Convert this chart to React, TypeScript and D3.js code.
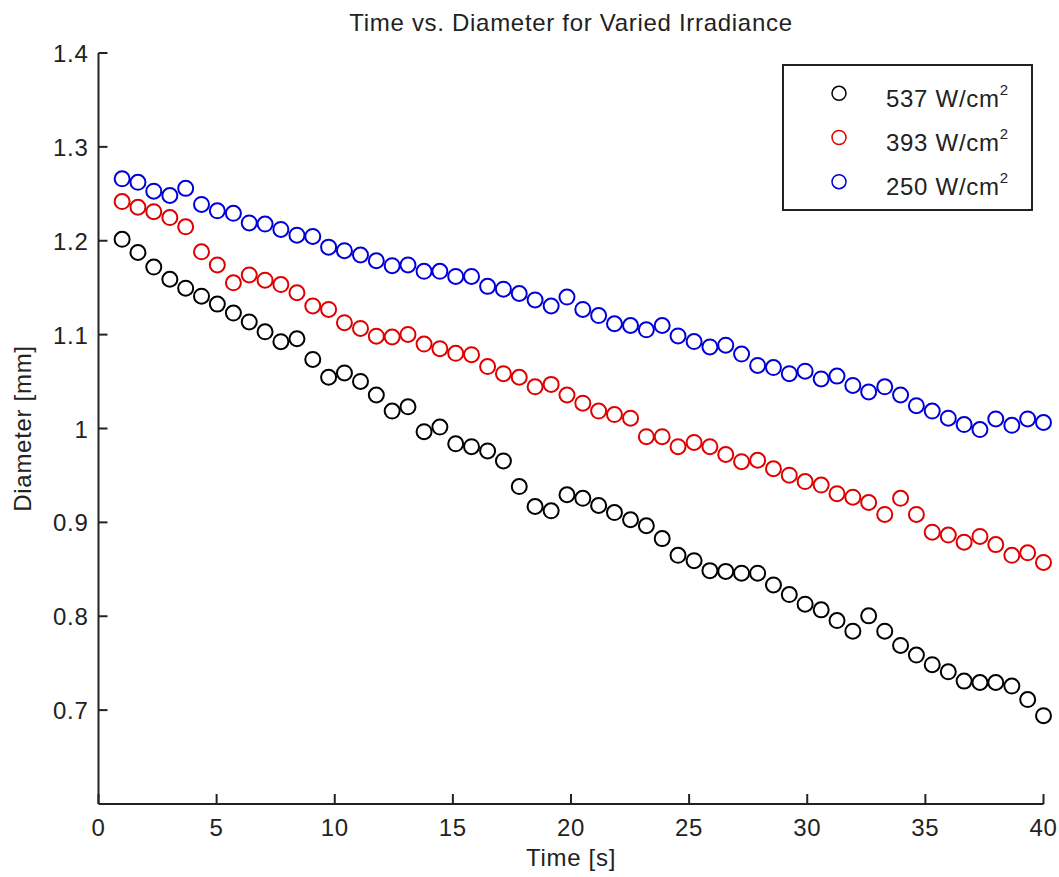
import React from "react";
import * as d3 from "d3";

const times = [1.0, 1.67, 2.34, 3.02, 3.69, 4.36, 5.03, 5.71, 6.38, 7.05, 7.72, 8.4, 9.07, 9.74, 10.41, 11.09, 11.76, 12.43, 13.1, 13.78, 14.45, 15.12, 15.79, 16.47, 17.14, 17.81, 18.48, 19.16, 19.83, 20.5, 21.17, 21.84, 22.52, 23.19, 23.86, 24.53, 25.21, 25.88, 26.55, 27.22, 27.9, 28.57, 29.24, 29.91, 30.59, 31.26, 31.93, 32.6, 33.28, 33.95, 34.62, 35.29, 35.97, 36.64, 37.31, 37.98, 38.66, 39.33, 40.0];

const d537 = [1.2015, 1.1875, 1.172, 1.159, 1.1495, 1.141, 1.1325, 1.123, 1.1135, 1.103, 1.0925, 1.0956, 1.0736, 1.0546, 1.0592, 1.0501, 1.0357, 1.0186, 1.0231, 0.9966, 1.0015, 0.9837, 0.9806, 0.9761, 0.9655, 0.9381, 0.9169, 0.9123, 0.9294, 0.9256, 0.918, 0.9104, 0.9028, 0.8964, 0.8827, 0.8649, 0.8592, 0.8486, 0.8478, 0.8459, 0.8459, 0.8334, 0.8231, 0.8129, 0.8068, 0.7954, 0.7841, 0.8004, 0.7841, 0.7689, 0.7586, 0.7484, 0.7408, 0.7309, 0.7294, 0.7294, 0.7256, 0.7112, 0.6941];

const d393 = [1.2417, 1.2357, 1.231, 1.2247, 1.2148, 1.1882, 1.1742, 1.1552, 1.1636, 1.158, 1.1533, 1.1446, 1.1306, 1.1268, 1.1127, 1.1066, 1.0983, 1.0975, 1.1002, 1.0899, 1.085, 1.0801, 1.0786, 1.066, 1.0584, 1.0546, 1.0444, 1.047, 1.0357, 1.027, 1.0186, 1.0148, 1.011, 0.9913, 0.9913, 0.9806, 0.9852, 0.9806, 0.9723, 0.9647, 0.9662, 0.9571, 0.9503, 0.9435, 0.9397, 0.9306, 0.9268, 0.9212, 0.9085, 0.9256, 0.9085, 0.8896, 0.8865, 0.8789, 0.885, 0.8763, 0.8649, 0.8676, 0.8573];

const d250 = [1.266, 1.2622, 1.2528, 1.2482, 1.2558, 1.2387, 1.2319, 1.2292, 1.219, 1.2178, 1.2121, 1.2059, 1.2046, 1.1932, 1.1894, 1.1848, 1.1787, 1.1734, 1.1742, 1.1674, 1.1674, 1.162, 1.162, 1.1514, 1.1484, 1.1438, 1.137, 1.1305, 1.14, 1.1268, 1.1203, 1.1116, 1.1097, 1.1051, 1.1097, 1.0986, 1.0926, 1.0869, 1.0888, 1.0793, 1.0672, 1.0649, 1.0584, 1.0611, 1.0528, 1.0558, 1.0459, 1.039, 1.0444, 1.0357, 1.0243, 1.0186, 1.011, 1.0042, 0.9989, 1.0102, 1.0034, 1.0102, 1.0064];

const seriesNames = ["537", "393", "250"];
const seriesColors = ["#000000", "#e00000", "#0000d8"];
const seriesValues = [d537, d393, d250];

const xTicks = [0, 5, 10, 15, 20, 25, 30, 35, 40];
const xTickLabels = ["0", "5", "10", "15", "20", "25", "30", "35", "40"];
const yTicks = [0.7, 0.8, 0.9, 1.0, 1.1, 1.2, 1.3, 1.4];
const yTickLabels = ["0.7", "0.8", "0.9", "1", "1.1", "1.2", "1.3", "1.4"];

const W = 1059;
const H = 877;
const FONT = "'Liberation Sans', Arial, Helvetica, sans-serif";

export default function App() {
  const x = d3.scaleLinear().domain([0, 40]).range([98.5, 1043.5]);
  const y = d3.scaleLinear().domain([0.6, 1.4]).range([804, 53]);
  const axisColor = "#222";
  const fs = 24;
  const ls = 0.7;

  return (
    <svg
      width={W}
      height={H}
      viewBox={`0 0 ${W} ${H}`}
      style={{ position: "absolute", left: 0, top: 0, display: "block", background: "#fff" }}
      fontFamily={FONT}
    >
      <rect x={0} y={0} width={W} height={H} fill="#fff" />
      {/* title */}
      <text x={(x(0) + x(40)) / 2} y={31} textAnchor="middle" fontSize={fs} letterSpacing={ls} fill="#222">
        Time vs. Diameter for Varied Irradiance
      </text>

      {/* axes lines */}
      <line x1={x(0)} x2={x(0)} y1={y(1.4)} y2={y(0.6)} stroke={axisColor} strokeWidth={2} />
      <line x1={x(0)} x2={x(40)} y1={y(0.6)} y2={y(0.6)} stroke={axisColor} strokeWidth={2} />

      {/* x ticks */}
      {xTicks.map((t, i) => (
        <g key={"xt" + i}>
          <line x1={x(t)} x2={x(t)} y1={y(0.6)} y2={y(0.6) - 10} stroke={axisColor} strokeWidth={2} />
          <text x={x(t)} y={y(0.6) + 32} textAnchor="middle" fontSize={fs} letterSpacing={ls} fill="#222">
            {xTickLabels[i]}
          </text>
        </g>
      ))}

      {/* y ticks */}
      {yTicks.map((t, i) => (
        <g key={"yt" + i}>
          <line x1={x(0)} x2={x(0) + 9} y1={y(t)} y2={y(t)} stroke={axisColor} strokeWidth={2} />
          <text x={x(0) - 10} y={y(t) + 9} textAnchor="end" fontSize={fs} letterSpacing={ls} fill="#222">
            {yTickLabels[i]}
          </text>
        </g>
      ))}

      {/* axis labels */}
      <text x={(x(0) + x(40)) / 2} y={866} textAnchor="middle" fontSize={fs} letterSpacing={ls} fill="#222">
        Time [s]
      </text>
      <text
        transform={`translate(31, ${(y(0.6) + y(1.4)) / 2}) rotate(-90)`}
        textAnchor="middle"
        fontSize={fs}
        letterSpacing={ls}
        fill="#222"
      >
        Diameter [mm]
      </text>

      {/* data */}
      {seriesValues.map((vals, s) => (
        <g key={"s" + s}>
          {vals.map((v, i) => (
            <circle
              key={i}
              cx={x(times[i])}
              cy={y(v)}
              r={7.5}
              fill="none"
              stroke={seriesColors[s]}
              strokeWidth={2}
            />
          ))}
        </g>
      ))}

      {/* legend */}
      <rect x={783} y={65} width={249} height={145} fill="#fff" stroke="#222" strokeWidth={2} />
      {seriesNames.map((n, i) => (
        <g key={"lg" + i}>
          <circle cx={839} cy={93.3 + i * 44.2} r={7} fill="none" stroke={seriesColors[i]} strokeWidth={1.5} />
          <text x={886} y={107 + i * 44.2} fontSize={fs} letterSpacing={ls} fill="#222">
            {n} W/cm
            <tspan fontSize={15} dy={-12}>2</tspan>
          </text>
        </g>
      ))}
    </svg>
  );
}
